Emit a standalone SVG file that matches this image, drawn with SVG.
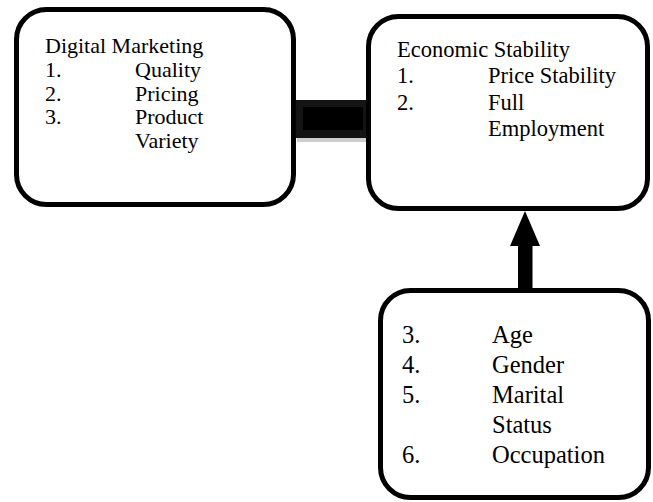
<svg xmlns="http://www.w3.org/2000/svg" width="653" height="502" viewBox="0 0 653 502">
  <style>
    .box { fill: #ffffff; stroke: #000000; stroke-width: 5; }
    .t1 { font-family: "Liberation Serif", "Times New Roman", serif; font-size: 22px; fill: #000; }
    .t2 { font-family: "Liberation Serif", "Times New Roman", serif; font-size: 22.5px; fill: #000; }
    .t3 { font-family: "Liberation Serif", "Times New Roman", serif; font-size: 24.5px; fill: #000; }
  </style>
  <rect width="653" height="502" fill="#ffffff"/>
  <g id="connectors">
    <rect x="294" y="100" width="76" height="38" fill="#141414"/>
    <rect x="303" y="107" width="60" height="23" fill="#000000"/>
    <rect x="297" y="138" width="72" height="4" fill="#cfcfcf"/>
    <rect x="369" y="104" width="3" height="40" fill="#dcdcdc"/>
    <rect x="518" y="240" width="14.5" height="50" fill="#000000"/>
    <polygon points="525,211 540,246 510,246" fill="#000000"/>
  </g>
  <g id="node-digital-marketing">
    <rect class="box" x="16.5" y="9.5" width="277" height="195" rx="30" ry="30"/>
    <text class="t1" x="45" y="53">Digital Marketing</text>
    <text class="t1" x="45" y="76.5">1.</text>
    <text class="t1" x="135" y="76.5">Quality</text>
    <text class="t1" x="45" y="100.5">2.</text>
    <text class="t1" x="135" y="100.5">Pricing</text>
    <text class="t1" x="45" y="124">3.</text>
    <text class="t1" x="135" y="124">Product</text>
    <text class="t1" x="135" y="148">Variety</text>
  </g>
  <g id="node-economic-stability">
    <rect class="box" x="368.5" y="16.5" width="279" height="192" rx="30" ry="30"/>
    <text class="t2" x="397" y="57">Economic Stability</text>
    <text class="t2" x="397" y="83">1.</text>
    <text class="t2" x="488" y="83">Price Stability</text>
    <text class="t2" x="397" y="109.5">2.</text>
    <text class="t2" x="488" y="109.5">Full</text>
    <text class="t2" x="488" y="136">Employment</text>
  </g>
  <g id="node-demographics">
    <rect class="box" x="380.5" y="290.5" width="268" height="207" rx="30" ry="30"/>
    <text class="t3" x="402" y="343">3.</text>
    <text class="t3" x="492" y="343">Age</text>
    <text class="t3" x="402" y="373">4.</text>
    <text class="t3" x="492" y="373">Gender</text>
    <text class="t3" x="402" y="403">5.</text>
    <text class="t3" x="492" y="403">Marital</text>
    <text class="t3" x="492" y="433">Status</text>
    <text class="t3" x="402" y="463">6.</text>
    <text class="t3" x="492" y="463">Occupation</text>
  </g>
</svg>
